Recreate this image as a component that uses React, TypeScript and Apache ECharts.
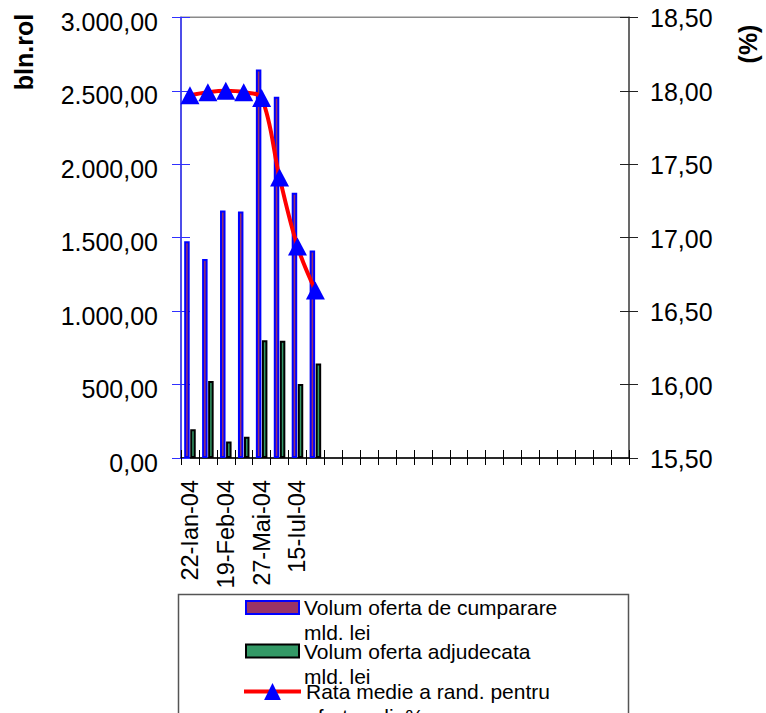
import React, { useEffect, useRef } from "react";
import * as echarts from "echarts";

const categories = [
  "22-Ian-04", "05-Feb-04", "19-Feb-04", "04-Mar-04", "27-Mai-04", "10-Iun-04", "15-Iul-04", "29-Iul-04",
  "", "", "", "", "", "", "", "", "", "", "", "", "", "", "", "", "",
];
const ofertaCumparare = [1475, 1355, 1685, 1678, 2645, 2460, 1805, 1412];
const ofertaAdjudecata = [195, 525, 112, 145, 802, 798, 503, 643];
const rataMedie = [17.97, 17.99, 18.0, 17.99, 17.95, 17.41, 16.94, 16.64];

const seriesNames = [
  "Volum oferta de cumparare\nmld. lei",
  "Volum oferta adjudecata\nmld. lei",
  "Rata medie a rand. pentru\noferta adj. %",
];
const leftAxisTitle = "bln.rol";
const rightAxisTitle = "(%)";

const FONT = "'Liberation Sans', Arial, sans-serif";

function fmt(v: number): string {
  const [i, d] = v.toFixed(2).split(".");
  return i.replace(/\B(?=(\d{3})+(?!\d))/g, ".") + "," + d;
}

export default function App() {
  const ref = useRef<HTMLDivElement>(null);
  useEffect(() => {
    document.body.style.margin = "0";
    const chart = echarts.init(ref.current!, null, { renderer: "svg" });
    const legendText = {
      fontSize: 21,
      lineHeight: 25,
      color: "#000",
      fontFamily: FONT,
    };
    const legendFormatter = (name: string) => "\n" + name;
    chart.setOption({
      animation: false,
      backgroundColor: "#fff",
      grid: {
        left: 181,
        right: 137,
        top: 17.3,
        bottom: 255,
        show: true,
        borderColor: "#8a8a8a",
        borderWidth: 1.5,
        backgroundColor: "transparent",
      },
      xAxis: [
        {
          type: "category",
          data: categories,
          position: "bottom",
          boundaryGap: true,
          axisLine: { show: true, lineStyle: { color: "#000", width: 1.5 } },
          axisTick: { show: true, interval: 0, length: 7, inside: false, lineStyle: { color: "#000", width: 1 } },
          axisLabel: {
            show: true,
            interval: 1,
            rotate: 90,
            margin: 22,
            fontSize: 23.5,
            color: "#000",
            fontFamily: FONT,
          },
          splitLine: { show: false },
        },
        {
          type: "category",
          data: categories,
          position: "bottom",
          boundaryGap: true,
          axisLine: { show: false },
          axisTick: { show: true, interval: 0, length: 8, inside: true, lineStyle: { color: "#000", width: 1 } },
          axisLabel: { show: false },
          splitLine: { show: false },
        },
      ],
      yAxis: [
        {
          type: "value",
          position: "left",
          min: 0,
          max: 3000,
          interval: 500,
          axisLine: { show: true, lineStyle: { color: "#3030ff", width: 1.5 } },
          axisTick: { show: true, length: 9, inside: false, lineStyle: { color: "#3030ff", width: 1 } },
          axisLabel: {
            formatter: (v: number) => fmt(v),
            fontSize: 25,
            color: "#000",
            fontFamily: FONT,
            margin: 23,
            verticalAlign: "top",
            lineHeight: 9,
          },
          splitLine: { show: false },
        },
        {
          type: "value",
          position: "right",
          min: 15.5,
          max: 18.5,
          interval: 0.5,
          axisLine: { show: true, lineStyle: { color: "#555", width: 1.5 } },
          axisTick: { show: true, length: 9, inside: false, lineStyle: { color: "#222", width: 1 } },
          axisLabel: {
            formatter: (v: number) => fmt(v),
            fontSize: 25,
            color: "#000",
            fontFamily: FONT,
            margin: 21,
            verticalAlign: "top",
            lineHeight: 2,
          },
          splitLine: { show: false },
        },
        {
          type: "value",
          position: "left",
          min: 0,
          max: 3000,
          interval: 500,
          axisLine: { show: false },
          axisTick: { show: true, length: 9, inside: true, lineStyle: { color: "#3030ff", width: 1 } },
          axisLabel: { show: false },
          splitLine: { show: false },
        },
        {
          type: "value",
          position: "right",
          min: 15.5,
          max: 18.5,
          interval: 0.5,
          axisLine: { show: false },
          axisTick: { show: true, length: 9, inside: true, lineStyle: { color: "#222", width: 1 } },
          axisLabel: { show: false },
          splitLine: { show: false },
        },
      ],
      legend: [
        {
          orient: "vertical",
          left: 245,
          top: 570,
          padding: 0,
          selectedMode: false,
          itemWidth: 53,
          itemHeight: 13,
          data: [{ name: seriesNames[0], icon: "rect" }],
          itemStyle: { borderWidth: 2, borderColor: "#0000ff" },
          formatter: legendFormatter,
          textStyle: legendText,
        },
        {
          orient: "vertical",
          left: 245,
          top: 613.5,
          padding: 0,
          selectedMode: false,
          itemWidth: 53,
          itemHeight: 13,
          data: [{ name: seriesNames[1], icon: "rect" }],
          itemStyle: { borderWidth: 2, borderColor: "#000" },
          formatter: legendFormatter,
          textStyle: legendText,
        },
        {
          orient: "vertical",
          left: 242,
          top: 654,
          padding: 0,
          selectedMode: false,
          itemWidth: 57,
          itemHeight: 21,
          data: [{ name: seriesNames[2] }],
          lineStyle: { width: 4, color: "#ff0000" },
          itemStyle: { color: "#0000ff" },
          formatter: legendFormatter,
          textStyle: legendText,
        },
      ],
      graphic: [
        {
          type: "rect",
          shape: { x: 178.5, y: 594.5, width: 450, height: 200 },
          style: { fill: "transparent", stroke: "#555", lineWidth: 1.5 },
          z: -1,
        },
        {
          type: "text",
          x: 24,
          y: 52,
          rotation: Math.PI / 2,
          style: {
            text: leftAxisTitle,
            fontSize: 25,
            fontWeight: "bold",
            fontFamily: FONT,
            fill: "#000",
            align: "center",
            verticalAlign: "middle",
          },
        },
        {
          type: "text",
          x: 747.5,
          y: 44,
          rotation: Math.PI / 2,
          style: {
            text: rightAxisTitle,
            fontSize: 25,
            fontWeight: "bold",
            fontFamily: FONT,
            fill: "#000",
            align: "center",
            verticalAlign: "middle",
          },
        },
      ],
      series: [
        {
          type: "bar",
          name: seriesNames[0],
          xAxisIndex: 0,
          yAxisIndex: 0,
          data: ofertaCumparare,
          barWidth: 5.5,
          barGap: "10%",
          itemStyle: { color: "#993366", borderColor: "#0000ff", borderWidth: 2 },
        },
        {
          type: "bar",
          name: seriesNames[1],
          xAxisIndex: 0,
          yAxisIndex: 0,
          data: ofertaAdjudecata,
          barWidth: 5.5,
          barGap: "10%",
          itemStyle: { color: "#339966", borderColor: "#000", borderWidth: 2 },
        },
        {
          type: "line",
          name: seriesNames[2],
          xAxisIndex: 0,
          yAxisIndex: 1,
          data: rataMedie,
          smooth: 0.35,
          lineStyle: { color: "#ff0000", width: 4 },
          itemStyle: { color: "#0000ff" },
          symbol: "triangle",
          symbolSize: [19, 18],
          showAllSymbol: true,
          z: 5,
        },
      ],
    });
    return () => chart.dispose();
  }, []);
  return (
    <div
      ref={ref}
      style={{ position: "fixed", left: 0, top: 0, width: 766, height: 713 }}
    />
  );
}
